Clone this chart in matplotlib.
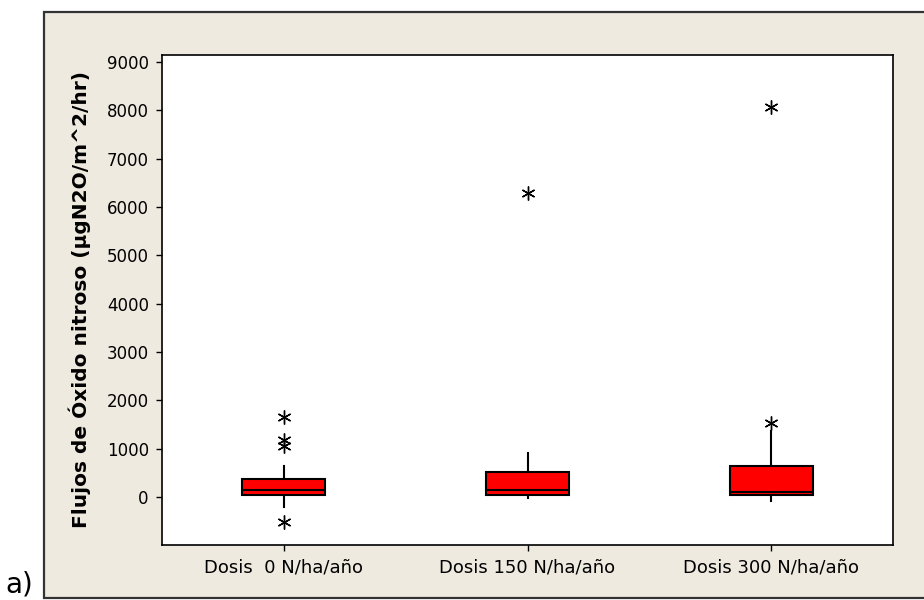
import matplotlib.pyplot as plt
from matplotlib.patches import Rectangle

# N2O flux summary per nitrogen dose (five-number summary + outliers)
labels = ["Dosis  0 N/ha/año", "Dosis 150 N/ha/año", "Dosis 300 N/ha/año"]
q1 = [41, 41, 41]
med = [145, 145, 97]
q3 = [366, 523, 647]
whislo = [-200, -10, -76]
whishi = [640, 903, 1364]
outliers = [
    [1660, 1178, 1054, -510],
    [6290],
    [8070, 1540],
]

yticks = list(range(0, 9001, 1000))

stats = [
    dict(label=lab, q1=a, med=m, q3=b, whislo=lo, whishi=hi, fliers=fl)
    for lab, a, m, b, lo, hi, fl in zip(labels, q1, med, q3, whislo, whishi, outliers)
]

plt.rcParams["font.family"] = ["DejaVu Sans"]

fig = plt.figure(figsize=(9.24, 6.0), dpi=100)
fig.patch.set_facecolor("white")

# beige panel behind the plot
panel = Rectangle((44 / 924, 2.5 / 600), 1.0, 585.5 / 600, transform=fig.transFigure,
                  facecolor="#EEEAE0", edgecolor="#333333", linewidth=1.6, zorder=-10)
fig.patches.append(panel)

ax = fig.add_axes([162 / 924, 55 / 600, 731 / 924, 490 / 600])
ax.set_zorder(1)
ax.set_facecolor("white")

ax.bxp(
    stats,
    positions=[1, 2, 3],
    widths=0.34,
    patch_artist=True,
    showcaps=False,
    boxprops=dict(facecolor="#FF0000", edgecolor="black", linewidth=1.5),
    medianprops=dict(color="black", linewidth=1.5),
    whiskerprops=dict(color="black", linewidth=1.5),
    flierprops=dict(marker=(6, 2, 0), markersize=10, markeredgecolor="black",
                    markeredgewidth=1.0, linestyle="none"),
)

ax.set_xlim(0.5, 3.5)
ax.set_ylim(-990, 9140)
ax.set_yticks(yticks)
ax.set_yticklabels([str(v) for v in yticks])
ax.tick_params(axis="both", direction="out", length=4.5, width=1, labelsize=12, pad=5,
               colors="black")
ax.tick_params(axis="x", labelsize=13)
for sp in ax.spines.values():
    sp.set_color("black")
    sp.set_linewidth(1.2)

ax.set_ylabel("Flujos de Óxido nitroso (µgN2O/m^2/hr)", fontsize=14.5, fontweight="bold",
              labelpad=11)

fig.text(5 / 924, 2 / 600, "a)", fontsize=20, ha="left", va="bottom")

fig.savefig("out.png", dpi=100, facecolor=fig.get_facecolor())
